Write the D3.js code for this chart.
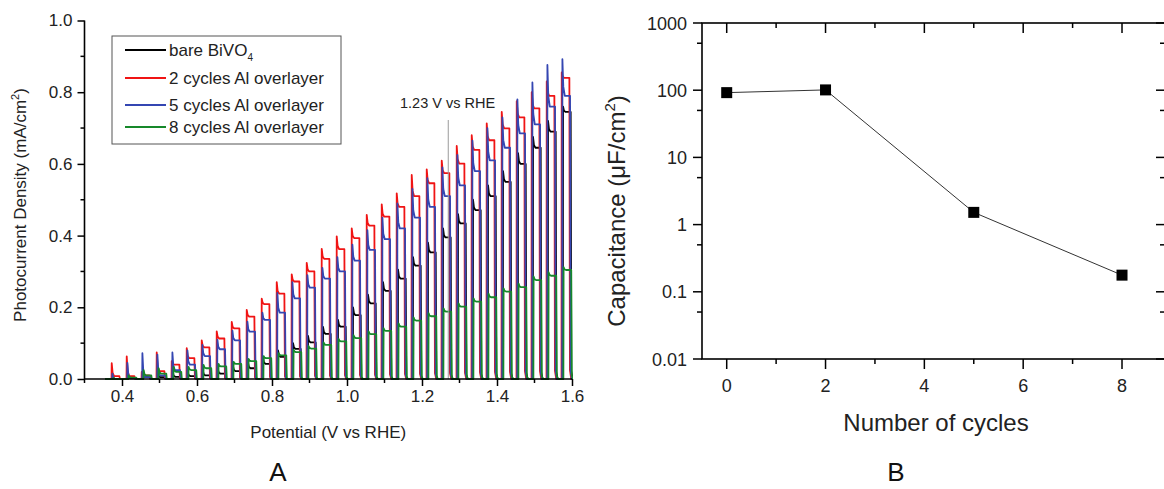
<!DOCTYPE html>
<html>
<head>
<meta charset="utf-8">
<script src="https://cdn.jsdelivr.net/npm/d3@7"></script>
<style>
  html, body { margin: 0; padding: 0; background: #fff; }
  svg { display: block; font-family: "Liberation Sans", Arial, sans-serif; }
</style>
</head>
<body>
<svg id="chart" width="1164" height="489"></svg>
<script>
// ---------- Panel A data: chopped-light photocurrent ----------
const onsets = [0.372, 0.412, 0.452, 0.492, 0.532, 0.572, 0.612, 0.652, 0.692, 0.732, 0.772,
  0.812, 0.852, 0.892, 0.932, 0.972, 1.012, 1.052, 1.092, 1.132, 1.172, 1.212, 1.252, 1.292,
  1.332, 1.372, 1.412, 1.452, 1.492, 1.532, 1.572];

const bareLevel = [0.0, 0.002, 0.005, 0.005, 0.006, 0.008, 0.01, 0.015, 0.022, 0.03, 0.042, 0.062,
  0.084, 0.102, 0.126, 0.146, 0.178, 0.211, 0.246, 0.28, 0.316, 0.353, 0.395, 0.434, 0.471, 0.51,
  0.55, 0.60, 0.645, 0.69, 0.745];
const barePeak = [0.005, 0.008, 0.012, 0.012, 0.014, 0.016, 0.02, 0.025, 0.035, 0.045, 0.06, 0.08,
  0.1, 0.12, 0.145, 0.165, 0.2, 0.235, 0.27, 0.305, 0.34, 0.38, 0.42, 0.46, 0.5, 0.54, 0.58, 0.63,
  0.675, 0.72, 0.76];

const al2Level = [0.008, 0.008, 0.01, 0.022, 0.04, 0.058, 0.088, 0.113, 0.141, 0.174, 0.209, 0.238,
  0.272, 0.30, 0.335, 0.362, 0.393, 0.428, 0.453, 0.48, 0.51, 0.546, 0.574, 0.601, 0.639, 0.666,
  0.699, 0.73, 0.755, 0.79, 0.84];
const al2Peak = [0.044, 0.063, 0.02, 0.074, 0.05, 0.086, 0.108, 0.133, 0.159, 0.193, 0.224, 0.27,
  0.292, 0.324, 0.363, 0.398, 0.42, 0.458, 0.487, 0.518, 0.569, 0.585, 0.609, 0.65, 0.68, 0.713,
  0.745, 0.775, 0.80, 0.83, 0.855];

const al5Level = [0.0, 0.003, 0.005, 0.01, 0.025, 0.04, 0.064, 0.083, 0.108, 0.132, 0.165, 0.185,
  0.225, 0.255, 0.28, 0.30, 0.33, 0.36, 0.39, 0.42, 0.45, 0.48, 0.51, 0.54, 0.58, 0.61, 0.645,
  0.685, 0.71, 0.76, 0.79];
const al5Peak = [0.015, 0.045, 0.072, 0.068, 0.074, 0.08, 0.095, 0.11, 0.135, 0.16, 0.185, 0.24,
  0.27, 0.29, 0.31, 0.34, 0.375, 0.415, 0.45, 0.49, 0.53, 0.56, 0.59, 0.625, 0.665, 0.70, 0.73,
  0.78, 0.827, 0.876, 0.892];

const al8Level = [0.0, 0.004, 0.01, 0.015, 0.02, 0.025, 0.03, 0.035, 0.042, 0.05, 0.058, 0.066,
  0.075, 0.085, 0.095, 0.105, 0.114, 0.125, 0.134, 0.146, 0.163, 0.175, 0.188, 0.202, 0.216,
  0.228, 0.244, 0.256, 0.276, 0.288, 0.304];
const al8Peak = [0.003, 0.01, 0.025, 0.03, 0.034, 0.034, 0.039, 0.042, 0.048, 0.056, 0.064, 0.072,
  0.082, 0.092, 0.102, 0.112, 0.122, 0.133, 0.142, 0.155, 0.172, 0.184, 0.197, 0.211, 0.225,
  0.238, 0.253, 0.266, 0.286, 0.298, 0.312];

const seriesNames = ["bare BiVO", "2 cycles Al overlayer", "5 cycles Al overlayer", "8 cycles Al overlayer"];
const xTicksA = [0.4, 0.6, 0.8, 1.0, 1.2, 1.4, 1.6];
const yTicksA = [0.0, 0.2, 0.4, 0.6, 0.8, 1.0];
const markerPotential = 1.27;
const markerLabel = "1.23 V vs RHE";

// ---------- Panel B data: capacitance ----------
const cycles = [0, 2, 5, 8];
const capacitance = [92, 101, 1.52, 0.177];
const xTicksB = [0, 2, 4, 6, 8];
const yTicksB = [0.01, 0.1, 1, 10, 100, 1000];
const yTickLabelsB = ["0.01", "0.1", "1", "10", "100", "1000"];

// ---------- drawing ----------
const svg = d3.select("#chart");
const font = "'Liberation Sans', Arial, sans-serif";

// Panel A scales
const xA = d3.scaleLinear().domain([0.3, 1.6]).range([84.5, 572]);
const yA = d3.scaleLinear().domain([0, 1.0]).range([379, 20.5]);

svg.append("defs").append("clipPath").attr("id", "clipA")
  .append("rect").attr("x", xA(0.3)).attr("y", yA(1.0))
  .attr("width", xA(1.6) - xA(0.3) + 1).attr("height", yA(0) - yA(1.0) + 1);

function trace(levels, peaks, shift) {
  const pts = [[0.355, 0]];
  onsets.forEach((on, i) => {
    const t = on + shift, L = levels[i], P = peaks[i];
    pts.push([t, 0]);
    pts.push([t + 0.0006, P]);
    pts.push([t + 0.003, L + 0.25 * (P - L)]);
    pts.push([t + 0.007, L]);
    pts.push([t + 0.021, L]);
    pts.push([t + 0.0225, 0.03 * L]);
    pts.push([t + 0.026, 0]);
  });
  pts.push([1.6, 0]);
  return pts;
}

const lineA = d3.line().x(d => xA(d[0])).y(d => yA(d[1]));
const series = [
  { lv: bareLevel, pk: barePeak, color: "#000000", shift: 0.0035 },
  { lv: al2Level, pk: al2Peak, color: "#f01414", shift: 0.0 },
  { lv: al5Level, pk: al5Peak, color: "#3446b2", shift: 0.0018 },
  { lv: al8Level, pk: al8Peak, color: "#16882a", shift: 0.005 }
];
const gA = svg.append("g").attr("clip-path", "url(#clipA)");
series.forEach(s => {
  gA.append("path").attr("d", lineA(trace(s.lv, s.pk, s.shift)))
    .attr("fill", "none").attr("stroke", s.color).attr("stroke-width", 1.8)
    .attr("stroke-linejoin", "round");
});

// annotation
svg.append("line").attr("x1", xA(markerPotential)).attr("x2", xA(markerPotential))
  .attr("y1", 120).attr("y2", yA(0)).attr("stroke", "#9a9a9a").attr("stroke-width", 1);
svg.append("text").attr("x", 400).attr("y", 108).attr("font-size", 14.5)
  .attr("fill", "#222").attr("font-family", font).text(markerLabel);

// axes A
const axB = svg.append("g").attr("transform", `translate(0,${yA(0)})`)
  .call(d3.axisBottom(xA).tickValues(xTicksA).tickSize(7).tickPadding(4).tickFormat(d3.format(".1f")));
const axL = svg.append("g").attr("transform", `translate(${xA(0.3)},0)`)
  .call(d3.axisLeft(yA).tickValues(yTicksA).tickSize(7).tickPadding(5).tickFormat(d3.format(".1f")));
[axB, axL].forEach(g => {
  g.select(".domain").attr("stroke", "#000").attr("stroke-width", 1.6);
  g.selectAll(".tick line").attr("stroke", "#000").attr("stroke-width", 1.5);
  g.selectAll("text").attr("font-size", 17).attr("font-family", font).attr("fill", "#222");
});
axB.select(".domain").attr("d", `M${xA(0.3)},0H${xA(1.6)}`);
axL.select(".domain").attr("d", `M0,${yA(0)}V${yA(1.0)}`);
// minor ticks A
[0.3, 0.5, 0.7, 0.9, 1.1, 1.3, 1.5].forEach(v => {
  svg.append("line").attr("x1", xA(v)).attr("x2", xA(v)).attr("y1", yA(0)).attr("y2", yA(0) + 4)
    .attr("stroke", "#000").attr("stroke-width", 1.5);
});
[0.1, 0.3, 0.5, 0.7, 0.9].forEach(v => {
  svg.append("line").attr("x1", xA(0.3) - 4).attr("x2", xA(0.3)).attr("y1", yA(v)).attr("y2", yA(v))
    .attr("stroke", "#000").attr("stroke-width", 1.5);
});

// titles A
svg.append("text").attr("x", xA(0.95)).attr("y", 438).attr("text-anchor", "middle")
  .attr("font-size", 17).attr("font-family", font).attr("fill", "#222").text("Potential (V vs RHE)");
const ytA = svg.append("text").attr("transform", "translate(26,205) rotate(-90)").attr("text-anchor", "middle")
  .attr("font-size", 17).attr("font-family", font).attr("fill", "#222");
ytA.append("tspan").text("Photocurrent Density (mA/cm");
ytA.append("tspan").attr("dy", -7).attr("font-size", 11).text("2");
ytA.append("tspan").attr("dy", 7).text(")");
svg.append("text").attr("x", 278).attr("y", 481).attr("text-anchor", "middle")
  .attr("font-size", 26).attr("font-family", font).attr("fill", "#111").text("A");

// legend
const leg = svg.append("g");
leg.append("rect").attr("x", 112).attr("y", 36).attr("width", 229).attr("height", 108)
  .attr("fill", "#fff").attr("stroke", "#555").attr("stroke-width", 1);
const legColors = ["#000000", "#f01414", "#3446b2", "#16882a"];
const legY = [50, 78, 105, 127];
seriesNames.forEach((name, i) => {
  leg.append("line").attr("x1", 125).attr("x2", 166).attr("y1", legY[i]).attr("y2", legY[i])
    .attr("stroke", legColors[i]).attr("stroke-width", 2);
  const t = leg.append("text").attr("x", 169).attr("y", legY[i] + 6).attr("font-size", 17)
    .attr("font-family", font).attr("fill", "#222");
  t.append("tspan").text(name);
  if (i === 0) t.append("tspan").attr("dy", 5).attr("font-size", 10).text("4");
});

// ---------- Panel B ----------
const xB = d3.scaleLinear().domain([-0.5, 8.87]).range([702, 1165]);
const yB = d3.scaleLog().domain([0.01, 1000]).range([359, 23]);

const gB = svg.append("g");
// frame
gB.append("rect").attr("x", 702).attr("y", 23).attr("width", 1165 - 702).attr("height", 359 - 23)
  .attr("fill", "none").attr("stroke", "#000").attr("stroke-width", 1.6);

const majX = xTicksB, minX = [1, 3, 5, 7];
const minY = [0.05, 0.5, 5, 50, 500];
majX.forEach(v => {
  gB.append("line").attr("x1", xB(v)).attr("x2", xB(v)).attr("y1", 359).attr("y2", 369).attr("stroke", "#000").attr("stroke-width", 1.5);
  gB.append("line").attr("x1", xB(v)).attr("x2", xB(v)).attr("y1", 23).attr("y2", 33).attr("stroke", "#000").attr("stroke-width", 1.5);
  gB.append("text").attr("x", xB(v)).attr("y", 392).attr("text-anchor", "middle").attr("font-size", 18)
    .attr("font-family", font).attr("fill", "#222").text(v);
});
minX.forEach(v => {
  gB.append("line").attr("x1", xB(v)).attr("x2", xB(v)).attr("y1", 359).attr("y2", 364).attr("stroke", "#000").attr("stroke-width", 1.5);
  gB.append("line").attr("x1", xB(v)).attr("x2", xB(v)).attr("y1", 23).attr("y2", 28).attr("stroke", "#000").attr("stroke-width", 1.5);
});
yTicksB.forEach((v, i) => {
  gB.append("line").attr("x1", 693).attr("x2", 702).attr("y1", yB(v)).attr("y2", yB(v)).attr("stroke", "#000").attr("stroke-width", 1.5);
  gB.append("line").attr("x1", 1156).attr("x2", 1165).attr("y1", yB(v)).attr("y2", yB(v)).attr("stroke", "#000").attr("stroke-width", 1.5);
  gB.append("text").attr("x", 687).attr("y", yB(v) + 6.5).attr("text-anchor", "end").attr("font-size", 18)
    .attr("font-family", font).attr("fill", "#222").text(yTickLabelsB[i]);
});
minY.forEach(v => {
  gB.append("line").attr("x1", 697).attr("x2", 702).attr("y1", yB(v)).attr("y2", yB(v)).attr("stroke", "#000").attr("stroke-width", 1.5);
  gB.append("line").attr("x1", 1160).attr("x2", 1165).attr("y1", yB(v)).attr("y2", yB(v)).attr("stroke", "#000").attr("stroke-width", 1.5);
});

const ptsB = cycles.map((c, i) => [c, capacitance[i]]);
gB.append("path").attr("d", d3.line().x(d => xB(d[0])).y(d => yB(d[1]))(ptsB))
  .attr("fill", "none").attr("stroke", "#333").attr("stroke-width", 1);
gB.selectAll("rect.pt").data(ptsB).enter().append("rect").attr("class", "pt")
  .attr("x", d => xB(d[0]) - 5.5).attr("y", d => yB(d[1]) - 5.5)
  .attr("width", 11).attr("height", 11).attr("fill", "#000");

svg.append("text").attr("x", 936).attr("y", 431).attr("text-anchor", "middle")
  .attr("font-size", 24).attr("font-family", font).attr("fill", "#222").text("Number of cycles");
const ytB = svg.append("text").attr("transform", "translate(625,211) rotate(-90)").attr("text-anchor", "middle")
  .attr("font-size", 24).attr("font-family", font).attr("fill", "#222");
ytB.append("tspan").text("Capacitance (\u03BCF/cm");
ytB.append("tspan").attr("dy", -10).attr("font-size", 15).text("2");
ytB.append("tspan").attr("dy", 10).text(")");
svg.append("text").attr("x", 896).attr("y", 481).attr("text-anchor", "middle")
  .attr("font-size", 26).attr("font-family", font).attr("fill", "#111").text("B");
</script>
</body>
</html>
